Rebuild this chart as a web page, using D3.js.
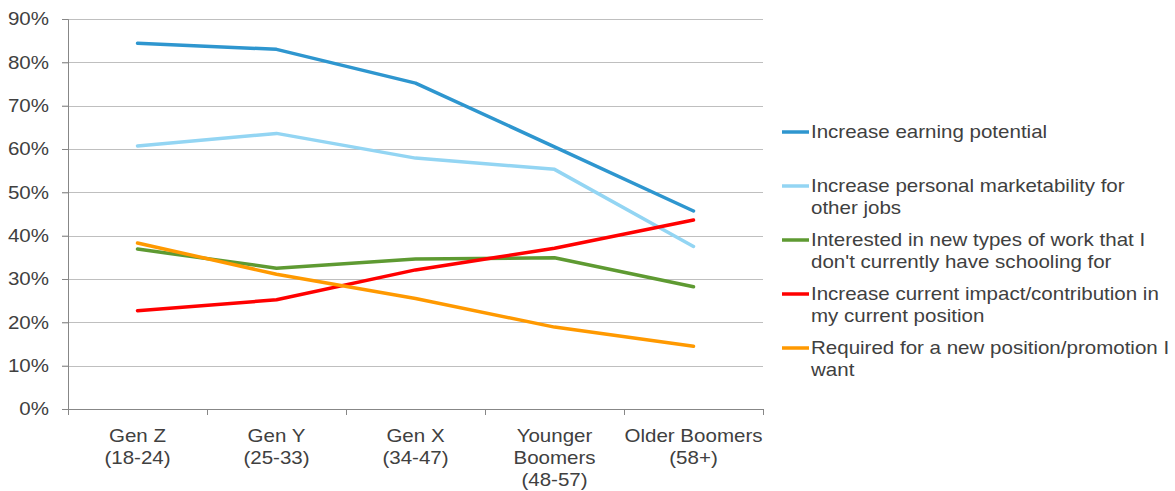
<!DOCTYPE html>
<html>
<head>
<meta charset="utf-8">
<script src="https://cdn.jsdelivr.net/npm/d3@7"></script>
<style>
  html, body { margin: 0; padding: 0; background: #fff; }
  svg text { font-family: "Liberation Sans", Arial, sans-serif; fill: #404040; }
</style>
</head>
<body>
<svg id="chart" width="1175" height="491"></svg>
<script>
// Generations surveyed (label lines)
const categories = [
  ["Gen Z", "(18-24)"],
  ["Gen Y", "(25-33)"],
  ["Gen X", "(34-47)"],
  ["Younger", "Boomers", "(48-57)"],
  ["Older Boomers", "(58+)"]
];

// Share of respondents citing each reason, per generation (%)
const earningPotential   = [84.4, 83.0, 75.2, 60.5, 45.7];
const marketability      = [60.7, 63.6, 57.9, 55.3, 37.5];
const newTypesOfWork     = [36.9, 32.5, 34.6, 34.9, 28.2];
const currentImpact      = [22.7, 25.2, 32.1, 37.1, 43.6];
const requiredPromotion  = [38.3, 31.1, 25.5, 18.9, 14.5];

const seriesNames = [
  "Increase earning potential",
  "Increase personal marketability for other jobs",
  "Interested in new types of work that I don't currently have schooling for",
  "Increase current impact/contribution in my current position",
  "Required for a new position/promotion I want"
];
const seriesColors = ["#2e96cf", "#93d5f3", "#5e9a32", "#ff0000", "#ff9900"];
const seriesValues = [earningPotential, marketability, newTypesOfWork, currentImpact, requiredPromotion];

const yTicks = [0, 10, 20, 30, 40, 50, 60, 70, 80, 90];

const FONT_SIZE = 17.7;
const STRETCH = 1.16; // wide-set lettering: glyphs scaled horizontally about their anchor

function stretchAbout(sel, ax) {
  sel.attr("transform", `translate(${ax},0) scale(${STRETCH},1) translate(${-ax},0)`);
}

const svg = d3.select("#chart");
const plot = { left: 68, right: 763, top: 19, bottom: 409 };

const x = d3.scaleBand()
  .domain(d3.range(categories.length))
  .range([plot.left, plot.right]);
const y = d3.scaleLinear().domain([0, 90]).range([plot.bottom, plot.top]);

// Horizontal gridlines
svg.append("g")
  .selectAll("line")
  .data(yTicks.filter(d => d > 0))
  .join("line")
  .attr("x1", plot.left - 6).attr("x2", plot.right)
  .attr("y1", d => Math.round(y(d)) + 0.5).attr("y2", d => Math.round(y(d)) + 0.5)
  .attr("stroke", "#bfbfbf").attr("stroke-width", 1);

// Y axis
const yAxis = svg.append("g")
  .attr("transform", `translate(${plot.left},0)`)
  .call(d3.axisLeft(y).tickValues(yTicks).tickFormat(d => d + "%").tickSize(6).tickPadding(13));
yAxis.select(".domain").attr("stroke", "#878787");
yAxis.selectAll(".tick line").attr("stroke", "#878787");
yAxis.selectAll(".tick text")
  .attr("font-size", FONT_SIZE)
  .attr("fill", "#404040")
  .style("font-family", "'Liberation Sans', Arial, sans-serif")
  .each(function () { stretchAbout(d3.select(this), +d3.select(this).attr("x")); });

// X axis with ticks at category boundaries
const boundaries = d3.range(categories.length + 1).map(i => plot.left + i * x.bandwidth());
const xAxisG = svg.append("g");
xAxisG.append("line")
  .attr("x1", plot.left).attr("x2", plot.right)
  .attr("y1", plot.bottom + 0.5).attr("y2", plot.bottom + 0.5)
  .attr("stroke", "#878787");
xAxisG.selectAll("line.tk")
  .data(boundaries)
  .join("line")
  .attr("class", "tk")
  .attr("x1", d => Math.round(d) + 0.5).attr("x2", d => Math.round(d) + 0.5)
  .attr("y1", plot.bottom).attr("y2", plot.bottom + 6)
  .attr("stroke", "#878787");

const xLabels = xAxisG.selectAll("text.cat")
  .data(categories)
  .join("text")
  .attr("class", "cat")
  .attr("text-anchor", "middle")
  .attr("font-size", FONT_SIZE)
  .attr("x", (d, i) => x(i) + x.bandwidth() / 2)
  .attr("y", plot.bottom + 33)
  .each(function () { stretchAbout(d3.select(this), +d3.select(this).attr("x")); });
xLabels.selectAll("tspan")
  .data(d => d)
  .join("tspan")
  .attr("x", function () { return d3.select(this.parentNode).attr("x"); })
  .attr("dy", (d, i) => i === 0 ? 0 : 22)
  .text(d => d);

// Series lines
const line = d3.line()
  .x((d, i) => x(i) + x.bandwidth() / 2)
  .y(d => y(d));

svg.append("g")
  .selectAll("path")
  .data(seriesValues)
  .join("path")
  .attr("d", d => line(d))
  .attr("fill", "none")
  .attr("stroke", (d, i) => seriesColors[i])
  .attr("stroke-width", 3.5)
  .attr("stroke-linejoin", "round")
  .attr("stroke-linecap", "round");

// Legend with wrapped labels
const legend = svg.append("g");
const textX = 811;
const wrapWidth = 362 / STRETCH;
const lineH = 22;
let cursorY = 132;
seriesNames.forEach((name, i) => {
  const g = legend.append("g");
  g.append("line")
    .attr("x1", 782).attr("x2", 809)
    .attr("y1", cursorY).attr("y2", cursorY)
    .attr("stroke", seriesColors[i]).attr("stroke-width", 3.5);
  const t = g.append("text")
    .attr("x", textX).attr("y", cursorY)
    .attr("font-size", FONT_SIZE);
  const words = name.split(" ");
  const lines = [];
  let current = [];
  const probe = t.append("tspan").attr("x", textX);
  words.forEach(w => {
    current.push(w);
    probe.text(current.join(" "));
    if (probe.node().getComputedTextLength() > wrapWidth && current.length > 1) {
      current.pop();
      lines.push(current.join(" "));
      current = [w];
    }
  });
  lines.push(current.join(" "));
  probe.remove();
  lines.forEach((ln, j) => {
    t.append("tspan").attr("x", textX).attr("dy", j === 0 ? "0.35em" : lineH).text(ln);
  });
  stretchAbout(t, textX);
  cursorY += Math.max(lines.length, 2) * lineH + 10;
});
</script>
</body>
</html>
